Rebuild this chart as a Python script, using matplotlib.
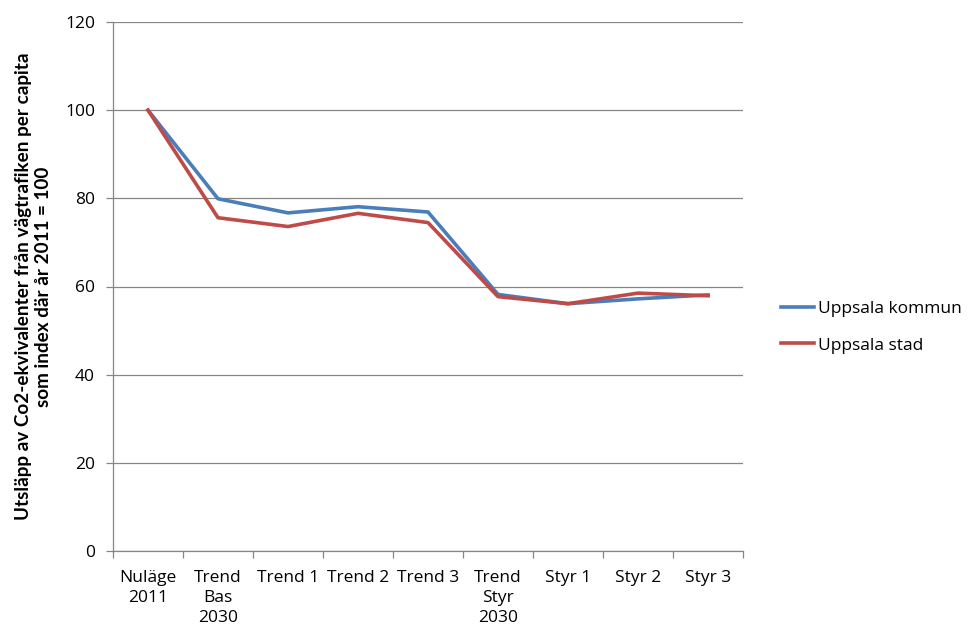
import matplotlib
matplotlib.use("Agg")
import matplotlib.pyplot as plt
from matplotlib.ticker import FixedLocator

categories = ["Nuläge\n2011", "Trend\nBas\n2030", "Trend 1", "Trend 2", "Trend 3",
              "Trend\nStyr\n2030", "Styr 1", "Styr 2", "Styr 3"]
kommun = [100, 79.9, 76.7, 78.1, 76.9, 58.2, 56.1, 57.2, 58.1]
stad = [100, 75.6, 73.6, 76.6, 74.5, 57.7, 56.1, 58.5, 57.9]
yticks = [0, 20, 40, 60, 80, 100, 120]

plt.rcParams['font.family'] = ['Open Sans', 'DejaVu Sans']

fig = plt.figure(figsize=(9.73, 6.38), dpi=100)
ax = fig.add_axes([113/973, 87/638, 630/973, 529/638])

x = list(range(len(categories)))
l1, = ax.plot(x, kommun, color="#4A7EBB", lw=2.6, solid_joinstyle="round")
l2, = ax.plot(x, stad, color="#BE4B48", lw=2.6, solid_joinstyle="round")

ax.set_xlim(-0.5, len(categories) - 0.5)
ax.set_ylim(0, 120)
ax.set_yticks(yticks)
ax.yaxis.grid(True, color="#868686", lw=0.9)
ax.set_axisbelow(True)
for s in ["top", "right"]:
    ax.spines[s].set_visible(False)
for s in ["left", "bottom"]:
    ax.spines[s].set_color("#868686")
    ax.spines[s].set_linewidth(0.9)

# category labels centred, ticks on category boundaries
ax.set_xticks(x)
ax.set_xticklabels(categories, fontsize=12.5, linespacing=1.3, va="top")
ax.tick_params(axis="x", which="major", length=0, pad=14)
ax.xaxis.set_minor_locator(FixedLocator([i - 0.5 for i in range(len(categories) + 1)]))
ax.tick_params(axis="x", which="minor", length=5, color="#868686", width=0.9)
ax.tick_params(axis="y", length=5, color="#868686", width=0.9, labelsize=12.5, pad=8)

ax.set_ylabel("Utsläpp av Co2-ekvivalenter från vägtrafiken per capita\nsom index där år 2011 = 100",
              fontsize=13.6, fontweight="bold", family=['Liberation Sans Narrow', 'Lato'],
              linespacing=1.25, labelpad=9)

fig.legend([l1, l2], ["Uppsala kommun", "Uppsala stad"], loc="center left",
           bbox_to_anchor=(765/973, 1 - 327/638), frameon=False, fontsize=12.5,
           handlelength=1.9, handletextpad=0.25, labelspacing=1.2)

fig.savefig("out.png", dpi=100)
